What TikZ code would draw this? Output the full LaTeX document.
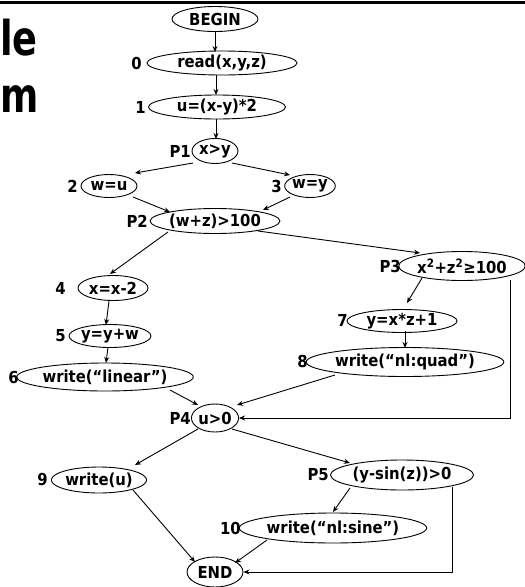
\documentclass[tikz,border=0pt]{standalone}
\usepackage{fontspec}
\setmainfont{DejaVu Sans Condensed}
\usetikzlibrary{shapes.geometric,arrows.meta,calc}
\begin{document}
\begin{tikzpicture}[x=1pt,y=-1pt,
  every node/.style={font=\fontsize{16.5}{18}\selectfont\bfseries},
  blob/.style={draw,ellipse,line width=0.9pt,inner sep=0pt},
  lab/.style={anchor=east,inner sep=0pt},
  arr/.style={line width=0.9pt,-{Stealth[length=6pt,width=5pt]}}]
\useasboundingbox (0,0) rectangle (525,587);
\clip (0,0) rectangle (525,587);
% top rule and cut-off title
\draw[line width=2.5pt] (0,2.5) -- (525,2.5);
\node[anchor=base west,inner sep=0pt,font=\fontsize{48}{50}\selectfont\bfseries] (t1) at (0,55) {\scalebox{0.85}[1]{le}};
\node[anchor=base west,inner sep=0pt,font=\fontsize{48}{50}\selectfont\bfseries] (t2) at (0,112) {\scalebox{0.85}[1]{m}};
% nodes
\node[blob,minimum width=86pt,minimum height=25pt] (begin) at (215,19) {BEGIN};
\node[blob,minimum width=150pt,minimum height=24pt] (n0) at (222,63) {read(x,y,z)};
\node[blob,minimum width=137pt,minimum height=24pt] (n1) at (217,107) {u=(x-y)*2};
\node[blob,minimum width=46pt,minimum height=25pt] (p1) at (215,151) {x>y};
\node[blob,minimum width=56pt,minimum height=23pt] (n2) at (109,186) {w=u};
\node[blob,minimum width=47pt,minimum height=23pt] (n3) at (310,186) {w=y};
\node[blob,minimum width=126pt,minimum height=25pt] (p2) at (215,221) {(w+z)>100};
\node[blob,minimum width=70pt,minimum height=25pt] (n4) at (113,288) {x=x-2};
\node[blob,minimum width=65pt,minimum height=23pt] (n5) at (110,336) {y=y+w};
\node[blob,minimum width=166pt,minimum height=28pt] (n6) at (105,377) {write(“linear”)};
\node[blob,minimum width=118pt,minimum height=29pt] (p3) at (462,266) {x\textsuperscript{2}+z\textsuperscript{2}≥100};
\node[blob,minimum width=110pt,minimum height=23pt] (n7) at (402,321) {y=x*z+1};
\node[blob,minimum width=192pt,minimum height=29pt] (n8) at (405,362) {write(“nl:quad”)};
\node[blob,minimum width=45pt,minimum height=28pt] (p4) at (215,418) {u>0};
\node[blob,minimum width=95pt,minimum height=26pt] (n9) at (99,480) {write(u)};
\node[blob,minimum width=143pt,minimum height=30pt] (p5) at (402,475) {(y-sin(z))>0};
\node[blob,minimum width=180pt,minimum height=30pt] (n10) at (333,528) {write(“nl:sine”)};
\node[blob,minimum width=56pt,minimum height=30pt] (end) at (215,572) {END};
% labels
\node[lab] (l0) at (142,63) {0};
\node[lab] (l1) at (146,107) {1};
\node[lab] (lp1) at (191,151) {P1};
\node[lab] (l2) at (78,186) {2};
\node[lab] (l3) at (282,186) {3};
\node[lab] (lp2) at (148,221) {P2};
\node[lab] (l4) at (66,288) {4};
\node[lab] (l5) at (66,336) {5};
\node[lab] (l6) at (19,377) {6};
\node[lab] (lp3) at (401,266) {P3};
\node[lab] (l7) at (348,320) {7};
\node[lab] (l8) at (308,361) {8};
\node[lab] (lp4) at (191,418) {P4};
\node[lab] (l9) at (48,479) {9};
\node[lab] (lp5) at (329,475) {P5};
\node[lab] (l10) at (241,528) {10};
% connectors
\draw[arr] ([shift={(0,12)}]begin.center) -- ([shift={(-7,-11)}]n0.center);
\draw[arr] ([shift={(-6,12)}]n0.center) -- ([shift={(-1,-12)}]n1.center);
\draw[arr] ([shift={(-1,12)}]n1.center) -- ([shift={(1,-12)}]p1.center);
\draw[arr] ([shift={(-22,12)}]p1.center) -- ([shift={(26,-13)}]n2.center);
\draw[arr] ([shift={(17,12)}]p1.center) -- ([shift={(-20,-11)}]n3.center);
\draw[arr] ([shift={(24,11)}]n2.center) -- ([shift={(-45,-9)}]p2.center);
\draw[arr] ([shift={(-20,11)}]n3.center) -- ([shift={(48,-11)}]p2.center);
\draw[arr] ([shift={(-47,11)}]p2.center) -- ([shift={(-3,-14)}]n4.center);
\draw[arr] ([shift={(43,10)}]p2.center) -- ([shift={(-42,-13)}]p3.center);
\draw[arr] ([shift={(-4,13)}]n4.center) -- ([shift={(-4,-11)}]n5.center);
\draw[arr] ([shift={(-2,11)}]n5.center) -- ([shift={(1,-14)}]n6.center);
\draw[arr] ([shift={(65,13)}]n6.center) -- ([shift={(-17,-13)}]p4.center);
\draw[arr] ([shift={(-40,12)}]p3.center) -- ([shift={(5,-18)}]n7.center);
\draw[arr] ([shift={(3,10)}]n7.center) -- ([shift={(0,-14)}]n8.center);
\draw[arr] ([shift={(-70,13)}]n8.center) -- ([shift={(22,-13)}]p4.center);
\draw[arr] ([shift={(48,14)}]p3.center) |- (p4.east);
\draw[arr] ([shift={(-17,11)}]p4.center) -- ([shift={(36,-15)}]n9.center);
\draw[arr] ([shift={(17,11)}]p4.center) -- ([shift={(-52,-12)}]p5.center);
\draw[arr] ([shift={(34,10)}]n9.center) -- ([shift={(-20,-10)}]end.center);
\draw[arr] ([shift={(-52,13)}]p5.center) -- ([shift={(0,-16)}]n10.center);
\draw[arr] ([shift={(-66,12)}]n10.center) -- ([shift={(20,-9)}]end.center);
\draw[arr] ([shift={(50,12)}]p5.center) |- (end.east);
\end{tikzpicture}
\end{document}
